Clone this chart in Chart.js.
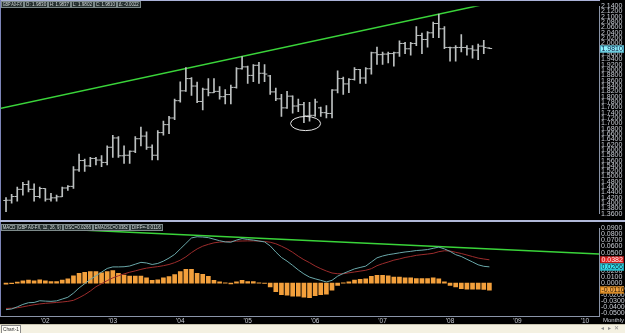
<!DOCTYPE html>
<html>
<head>
<meta charset="utf-8">
<title>GBP A0-FX Monthly</title>
<script src="https://cdn.jsdelivr.net/npm/chart.js@4.4.1/dist/chart.umd.min.js"></script>
<style>
  html, body { margin:0; padding:0; background:#000; }
  #wrap { position:relative; width:625px; height:333px; overflow:hidden; background:#000; font-family:"Liberation Sans", Arial, sans-serif; }
  canvas { position:absolute; left:0; display:block; }
  #priceCanvas { top:0; }
  #macdCanvas { top:222px; }
  .lbl { position:absolute; box-sizing:border-box; height:7px; line-height:5px; font-size:6px; color:#d6dcdc; background:#263030; border:1px solid #7d8a8a; white-space:nowrap; overflow:hidden; }
  .lbl span { display:inline-block; transform-origin:0 50%; padding-left:1px; }
  .line { position:absolute; }
  #monthly { position:absolute; left:603px; top:316px; font-size:6px; line-height:8px; color:#c8ccd4; }
  #strip { position:absolute; left:0; top:324px; width:625px; height:9px; background:#f4f1e2; border-top:1px solid #c9c5b0; box-sizing:border-box; }
  #tab { position:absolute; left:1px; top:325px; width:20px; height:8px; box-sizing:border-box; border:1px solid #8a8a8a; border-bottom:none; background:#fffef8; font-size:5.4px; line-height:6px; color:#333; overflow:hidden; white-space:nowrap; }
  #tab span { display:inline-block; transform-origin:0 50%; padding-left:1px; }
  #nav { position:absolute; left:601px; top:325px; font-size:5.5px; line-height:7px; color:#8a8a8a; letter-spacing:1px; }
</style>
</head>
<body>
<div id="wrap">
  <canvas id="priceCanvas" width="625" height="220"></canvas>
  <canvas id="macdCanvas" width="625" height="102"></canvas>
  <div class="line" style="left:0;top:0;width:600px;height:1px;background:#aab2d8;"></div>
  <div class="line" style="left:0;top:0;width:1px;height:316px;background:#7c84b8;"></div>
  <div class="line" style="left:0;top:220px;width:625px;height:2px;background:#b0b8d8;"></div>
  <div id="monthly">Monthly</div>
  <div id="strip"></div>
  <div id="tab"><span>Chart-1</span></div>
  <div id="nav">◂ ▸ ✕</div>
</div>
<script>
// ---------------- data ----------------
const months = [
 "2001-06","2001-07","2001-08","2001-09","2001-10","2001-11","2001-12",
 "2002-01","2002-02","2002-03","2002-04","2002-05","2002-06","2002-07","2002-08","2002-09","2002-10","2002-11","2002-12",
 "2003-01","2003-02","2003-03","2003-04","2003-05","2003-06","2003-07","2003-08","2003-09","2003-10","2003-11","2003-12",
 "2004-01","2004-02","2004-03","2004-04","2004-05","2004-06","2004-07","2004-08","2004-09","2004-10","2004-11","2004-12",
 "2005-01","2005-02","2005-03","2005-04","2005-05","2005-06","2005-07","2005-08","2005-09","2005-10","2005-11","2005-12",
 "2006-01","2006-02","2006-03","2006-04","2006-05","2006-06","2006-07","2006-08","2006-09","2006-10","2006-11","2006-12",
 "2007-01","2007-02","2007-03","2007-04","2007-05","2007-06","2007-07","2007-08","2007-09","2007-10","2007-11","2007-12",
 "2008-01","2008-02","2008-03","2008-04","2008-05","2008-06","2008-07","2008-08"
];
const openP = [
 1.410,1.411,1.425,1.452,1.470,1.452,1.425,1.455,1.415,1.420,
 1.424,1.457,1.463,1.525,1.560,1.540,1.568,1.562,1.553,1.610,
 1.645,1.578,1.580,1.595,1.642,1.652,1.610,1.580,1.665,1.695,
 1.720,1.785,1.822,1.868,1.840,1.782,1.828,1.815,1.820,1.800,
 1.808,1.835,1.905,1.912,1.880,1.918,1.888,1.878,1.818,1.792,
 1.758,1.802,1.765,1.770,1.728,1.730,1.758,1.740,1.737,1.825,
 1.868,1.848,1.865,1.902,1.870,1.905,1.965,1.958,1.960,1.962,
 1.965,2.000,1.980,2.000,2.030,2.015,2.040,2.075,2.055,1.985,
 1.984,1.985,1.985,1.980,1.975,1.990,1.9830
];
const highP = [
 1.421,1.433,1.460,1.478,1.484,1.473,1.460,1.455,1.437,1.430,
 1.460,1.466,1.537,1.584,1.566,1.572,1.572,1.579,1.615,1.655,
 1.650,1.615,1.597,1.650,1.686,1.668,1.619,1.673,1.708,1.726,
 1.791,1.856,1.909,1.872,1.855,1.832,1.868,1.868,1.838,1.827,
 1.844,1.909,1.951,1.915,1.921,1.929,1.921,1.880,1.832,1.809,
 1.820,1.803,1.791,1.779,1.779,1.791,1.761,1.767,1.827,1.897,
 1.874,1.868,1.909,1.903,1.909,1.968,1.986,1.968,1.968,1.968,
 2.010,2.004,2.004,2.063,2.039,2.045,2.080,2.110,2.063,1.986,
 1.992,2.033,1.992,1.992,1.998,2.012,1.9837
];
const lowP = [
 1.368,1.400,1.407,1.430,1.442,1.407,1.420,1.407,1.407,1.407,
 1.424,1.448,1.455,1.519,1.519,1.537,1.544,1.537,1.544,1.572,
 1.572,1.549,1.549,1.590,1.615,1.602,1.562,1.562,1.655,1.661,
 1.714,1.779,1.820,1.805,1.778,1.750,1.803,1.815,1.791,1.773,
 1.773,1.832,1.903,1.850,1.856,1.850,1.856,1.809,1.785,1.726,
 1.756,1.738,1.744,1.702,1.708,1.726,1.726,1.720,1.720,1.814,
 1.809,1.815,1.862,1.850,1.850,1.885,1.921,1.921,1.927,1.915,
 1.951,1.962,1.956,1.992,1.962,1.986,2.022,2.022,1.980,1.933,
 1.933,1.968,1.956,1.945,1.939,1.962,1.9802
];
const closeP = [
 1.411,1.425,1.452,1.470,1.452,1.425,1.455,1.415,1.420,1.424,
 1.457,1.463,1.525,1.560,1.540,1.568,1.562,1.553,1.610,1.645,
 1.578,1.580,1.595,1.642,1.652,1.610,1.580,1.665,1.695,1.720,
 1.785,1.822,1.868,1.840,1.782,1.828,1.815,1.820,1.800,1.808,
 1.835,1.905,1.912,1.880,1.918,1.888,1.885,1.818,1.792,1.758,
 1.802,1.765,1.770,1.728,1.730,1.780,1.740,1.737,1.825,1.868,
 1.848,1.865,1.902,1.870,1.905,1.965,1.958,1.960,1.962,1.965,
 2.000,1.980,2.000,2.030,2.015,2.040,2.075,2.055,1.985,1.984,
 1.985,1.985,1.980,1.975,1.990,1.985,1.9810
];
const macdLine = [
 -0.0436,-0.0425,-0.0390,-0.0350,-0.0322,-0.0318,-0.0290,-0.0296,-0.0300,-0.0292,
 -0.0262,-0.0233,-0.0165,-0.0080,-0.0010,0.0060,0.0120,0.0180,0.0240,0.0265,
 0.0265,0.0268,0.0280,0.0310,0.0340,0.0330,0.0305,0.0322,0.0360,0.0410,
 0.0470,0.0560,0.0650,0.0740,0.0760,0.0755,0.0745,0.0720,0.0695,0.0675,
 0.0670,0.0705,0.0730,0.0715,0.0705,0.0690,0.0675,0.0610,0.0510,0.0420,
 0.0360,0.0290,0.0215,0.0150,0.0098,0.0070,0.0045,0.0018,0.0045,0.0113,
 0.0158,0.0195,0.0233,0.0256,0.0278,0.0346,0.0414,0.0444,0.0466,0.0480,
 0.0496,0.0510,0.0520,0.0534,0.0540,0.0550,0.0570,0.0590,0.0560,0.0520,
 0.0466,0.0436,0.0390,0.0346,0.0300,0.0275,0.0266
];
const signalLine = [
 -0.0416,-0.0413,-0.0405,-0.0390,-0.0372,-0.0355,-0.0342,-0.0332,-0.0325,-0.0318,
 -0.0310,-0.0300,-0.0283,-0.0240,-0.0190,-0.0130,-0.0060,-0.0010,0.0040,0.0085,
 0.0120,0.0150,0.0178,0.0200,0.0225,0.0245,0.0258,0.0270,0.0285,0.0305,
 0.0335,0.0375,0.0430,0.0500,0.0560,0.0605,0.0635,0.0660,0.0672,0.0678,
 0.0684,0.0688,0.0690,0.0692,0.0692,0.0688,0.0682,0.0670,0.0645,0.0605,
 0.0560,0.0505,0.0440,0.0383,0.0335,0.0280,0.0236,0.0198,0.0165,0.0153,
 0.0153,0.0168,0.0182,0.0196,0.0210,0.0236,0.0285,0.0318,0.0346,0.0376,
 0.0396,0.0420,0.0436,0.0455,0.0466,0.0476,0.0488,0.0515,0.0530,0.0525,
 0.0505,0.0485,0.0460,0.0435,0.0410,0.0395,0.0382
];
const macdHist = [
 -0.0020,-0.0010,0.0015,0.0035,0.0050,0.0035,0.0055,0.0035,0.0025,0.0025,
 0.0050,0.0070,0.0120,0.0160,0.0175,0.0190,0.0190,0.0170,0.0190,0.0205,
 0.0160,0.0130,0.0115,0.0115,0.0115,0.0085,0.0045,0.0055,0.0085,0.0105,
 0.0140,0.0190,0.0225,0.0225,0.0160,0.0145,0.0110,0.0045,0.0020,0.0005,
 -0.0015,0.0020,0.0045,0.0025,0.0025,0.0005,-0.0005,-0.0065,-0.0140,-0.0190,
 -0.0200,-0.0215,-0.0215,-0.0230,-0.0240,-0.0205,-0.0190,-0.0180,-0.0115,-0.0040,
 0.0005,0.0020,0.0050,0.0060,0.0070,0.0110,0.0125,0.0125,0.0120,0.0100,
 0.0100,0.0085,0.0085,0.0075,0.0075,0.0075,0.0085,0.0070,0.0020,-0.0040,
 -0.0065,-0.0090,-0.0100,-0.0100,-0.0100,-0.0105,-0.0116
];
const priceTickLabels = [
 "1.3600","1.3800","1.4000","1.4200","1.4400","1.4600","1.4800","1.5000","1.5200","1.5400",
 "1.5600","1.5800","1.6000","1.6200","1.6400","1.6600","1.6800","1.7000","1.7200","1.7400",
 "1.7600","1.7800","1.8000","1.8200","1.8400","1.8600","1.8800","1.9000","1.9200","1.9400",
 "1.9600","1.9800","2.0000","2.0200","2.0400","2.0600","2.0800","2.1000","2.1200","2.1400"
];
const macdTickLabels = [
 "-0.0500","-0.0400","-0.0300","-0.0200","-0.0100","0.0000","0.0100","0.0200",
 "0.0300","0.0400","0.0500","0.0600","0.0700","0.0800","0.0900"
];
const yearTickIdx = [7, 19, 31, 43, 55, 67, 79, 91, 103];
const yearTickLabels = ["'02","'03","'04","'05","'06","'07","'08","'09","'10"];
const priceTrend = [{x:-2, y:1.7514}, {x:90, y:2.1692}];
const macdTrend = [{x:-2, y:0.0936}, {x:106, y:0.0476}];
const circleMark = {x:53.3, y:1.6992, rx:2.67, ry:0.0266};
const lastPrice = 1.9810;
const lastMacd = 0.0266, lastSignal = 0.0382, lastHist = -0.0116;
const headerFields = ["GBP A0-FX", "O: 1.9830", "H: 1.9837", "L: 1.9802", "C: 1.9810", "\u0394: -0.0022"];
const macdFields = ["MACD (GBP A0-FX, 12, 26, 9)", "OSC=0.0266", "EMAOSC=0.0382", "DIFF=-0.0116"];

// ---------------- layout / style ----------------
const X_MIN = -1.07, X_MAX = 105.5;
const BAR_COLOR = '#bcc0c0';
const AXIS_TEXT = '#c8ccd4';
const AXIS_LINE = '#8a94a8';
const FONT = 'Liberation Sans';
const headerWidths = [23, 24, 23, 23, 23, 24];
const macdWidths = [62, 30, 37, 33];

function fitSpan(span, boxW) {
  const sw = span.offsetWidth;
  const k = Math.min(1, (boxW - 3) / sw);
  span.style.transform = 'scaleX(' + k + ')';
}
function addBoxes(fields, widths, top) {
  const wrap = document.getElementById('wrap');
  let x = 1;
  fields.forEach((t, i) => {
    const d = document.createElement('div');
    d.className = 'lbl';
    d.style.left = x + 'px'; d.style.top = top + 'px'; d.style.width = widths[i] + 'px';
    const s = document.createElement('span');
    s.textContent = t;
    d.appendChild(s);
    wrap.appendChild(d);
    fitSpan(s, widths[i]);
    x += widths[i];
  });
}
addBoxes(headerFields, headerWidths, 1);
addBoxes(macdFields, macdWidths, 224);
fitSpan(document.querySelector('#tab span'), 20);

const axisBoxes = {
  id: 'axisBoxes',
  afterDraw(chart, args, opts) {
    const {ctx, chartArea} = chart;
    const ys = chart.scales.y;
    (opts.items || []).forEach(it => {
      const y = Math.round(ys.getPixelForValue(it.value));
      const x0 = chartArea.right + 1;
      const w = chart.width - x0 - 1;
      ctx.save();
      ctx.fillStyle = it.bg;
      ctx.fillRect(x0, y - 3.5, w, 7);
      ctx.strokeStyle = it.border; ctx.lineWidth = 1;
      ctx.strokeRect(x0 + 0.5, y - 3, w - 1, 6);
      ctx.fillStyle = it.fg;
      ctx.font = '7px "' + FONT + '"';
      ctx.textBaseline = 'middle';
      ctx.fillText(it.text, x0 + 1.5, y + 0.5);
      ctx.restore();
    });
  }
};

const ellipseMark = {
  id: 'ellipseMark',
  afterDatasetsDraw(chart, args, opts) {
    const m = opts.mark; if (!m) return;
    const xs = chart.scales.x, ys = chart.scales.y;
    const cx = xs.getPixelForValue(m.x), cy = ys.getPixelForValue(m.y);
    const rx = Math.abs(xs.getPixelForValue(m.x + m.rx) - cx);
    const ry = Math.abs(ys.getPixelForValue(m.y + m.ry) - cy);
    const ctx = chart.ctx;
    ctx.save();
    ctx.strokeStyle = '#e6e6e6'; ctx.lineWidth = 1;
    ctx.beginPath(); ctx.ellipse(cx, cy, rx, ry, 0, 0, Math.PI * 2); ctx.stroke();
    ctx.restore();
  }
};

const hlData = months.map((m, i) => ({x: i, y: [lowP[i], highP[i]]}));
const openData = months.map((m, i) => ({x: i - 0.24, y: openP[i]}));
const closeData = months.map((m, i) => ({x: i + 0.24, y: closeP[i]}));

const tickDot = {type: 'line', showLine: false, pointStyle: 'line', pointRadius: 1.4, pointHoverRadius: 1.4,
  pointBorderWidth: 1, pointBorderColor: BAR_COLOR, pointBackgroundColor: BAR_COLOR, borderColor: BAR_COLOR};

new Chart(document.getElementById('priceCanvas'), {
  type: 'bar',
  data: { datasets: [
    Object.assign({data: openData, order: 0}, tickDot),
    Object.assign({data: closeData, order: 0}, tickDot),
    {type: 'bar', data: hlData, backgroundColor: BAR_COLOR, barThickness: 1, borderWidth: 0, order: 1},
    {type: 'line', data: priceTrend, borderColor: '#3ad43a', borderWidth: 1.5, pointRadius: 0, order: 2}
  ]},
  options: {
    responsive: false, animation: false, devicePixelRatio: 1, events: [],
    layout: {padding: 0, autoPadding: false},
    plugins: {legend: {display: false}, tooltip: {enabled: false},
      axisBoxes: {items: [{value: lastPrice, text: lastPrice.toFixed(4), bg: '#8ef0fb', fg: '#0a1a40', border: '#4aa8c0'}]},
      ellipseMark: {mark: circleMark}},
    scales: {
      x: {type: 'linear', min: X_MIN, max: X_MAX, offset: false, display: false},
      y: {type: 'linear', position: 'right', min: 1.36, max: 2.14,
        afterFit(s) { s.width = 26; },
        afterBuildTicks(s) { s.ticks = priceTickLabels.map(t => ({value: parseFloat(t)})); },
        grid: {display: false, drawTicks: false},
        border: {display: true, color: AXIS_LINE, width: 1},
        ticks: {autoSkip: false, padding: 2, color: AXIS_TEXT, font: {family: FONT, size: 7},
          callback: (v, i) => priceTickLabels[i]}
      }
    }
  },
  plugins: [axisBoxes, ellipseMark]
});

new Chart(document.getElementById('macdCanvas'), {
  type: 'bar',
  data: { datasets: [
    {type: 'line', data: macdLine.map((v, i) => ({x: i, y: v})), borderColor: '#6aa8aa', borderWidth: 1, pointRadius: 0, order: 0},
    {type: 'line', data: signalLine.map((v, i) => ({x: i, y: v})), borderColor: '#9c2c2c', borderWidth: 1, pointRadius: 0, order: 1},
    {type: 'line', data: macdTrend, borderColor: '#3ad43a', borderWidth: 1.5, pointRadius: 0, order: 2},
    {type: 'bar', data: macdHist.map((v, i) => ({x: i, y: v})), backgroundColor: '#f3a03c', barThickness: 4, borderWidth: 0, order: 3}
  ]},
  options: {
    responsive: false, animation: false, devicePixelRatio: 1, events: [],
    layout: {padding: 0, autoPadding: false},
    plugins: {legend: {display: false}, tooltip: {enabled: false},
      axisBoxes: {items: [
        {value: lastSignal, text: lastSignal.toFixed(4), bg: '#e42828', fg: '#ffe8e8', border: '#a01010'},
        {value: lastMacd, text: lastMacd.toFixed(4), bg: '#36e2ee', fg: '#0a2030', border: '#1aa0b0'},
        {value: lastHist, text: lastHist.toFixed(4), bg: '#f2a23e', fg: '#2a1800', border: '#b87010'}
      ]}},
    scales: {
      x: {type: 'linear', min: X_MIN, max: X_MAX, offset: false, position: 'bottom',
        afterFit(s) { s.height = 8; },
        afterBuildTicks(s) { s.ticks = yearTickIdx.map(v => ({value: v})); },
        grid: {display: false, drawTicks: false},
        border: {display: true, color: AXIS_LINE, width: 1},
        ticks: {autoSkip: false, maxRotation: 0, padding: 1, color: AXIS_TEXT, font: {family: FONT, size: 6.5},
          callback: (v, i) => yearTickLabels[i]}
      },
      y: {type: 'linear', position: 'right', min: -0.054, max: 0.09,
        afterFit(s) { s.width = 26; },
        afterBuildTicks(s) { s.ticks = macdTickLabels.map(t => ({value: parseFloat(t)})); },
        grid: {display: false, drawTicks: false},
        border: {display: true, color: AXIS_LINE, width: 1},
        ticks: {autoSkip: false, padding: 2, color: AXIS_TEXT, font: {family: FONT, size: 7},
          callback: (v, i) => macdTickLabels[i]}
      }
    }
  },
  plugins: [axisBoxes]
});
</script>
</body>
</html>
